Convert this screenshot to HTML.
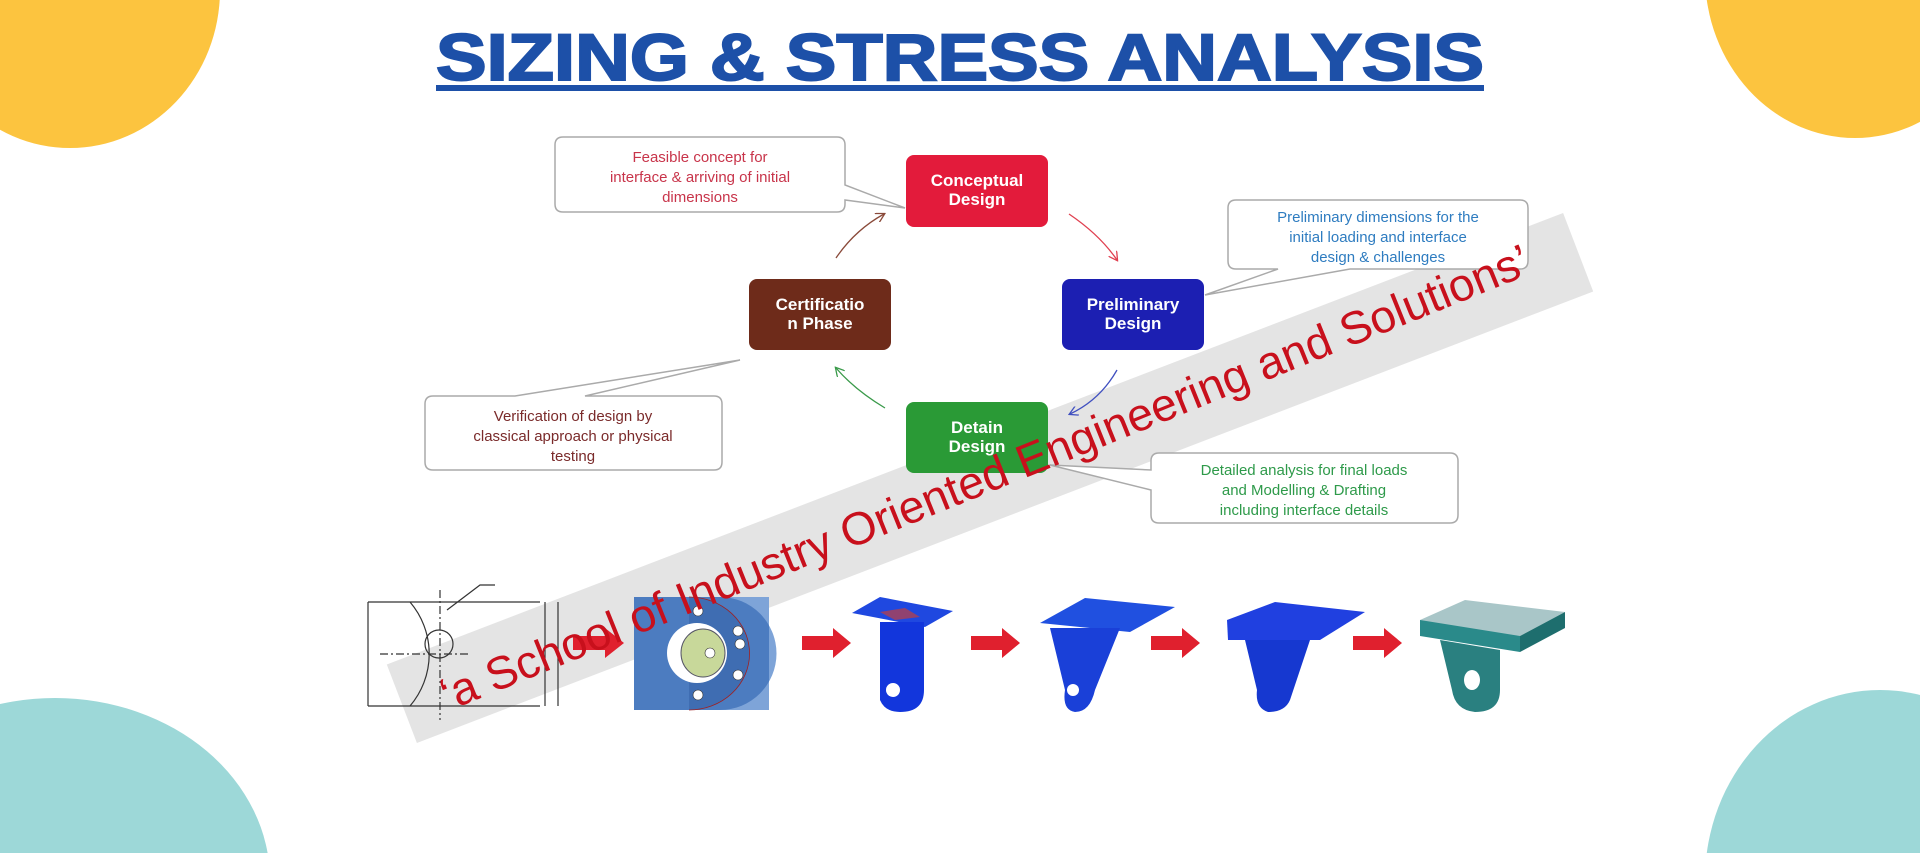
<!DOCTYPE html>
<html><head><meta charset="utf-8"><style>
html,body{margin:0;padding:0;background:#fff;width:1920px;height:853px;overflow:hidden;}
svg{display:block;overflow:hidden}
</style></head><body>
<svg width="1920" height="853" viewBox="0 0 1920 853" xmlns="http://www.w3.org/2000/svg" font-family="Liberation Sans, Arial, sans-serif">
<defs>
<clipPath id="cp"><rect x="0" y="0" width="1920" height="853"/></clipPath>
<marker id="ar" markerWidth="10" markerHeight="10" refX="8" refY="5" orient="auto" markerUnits="userSpaceOnUse"><path d="M0,0 L9,5 L0,10" fill="none" stroke="context-stroke" stroke-width="1.3"/></marker>
</defs>
<g clip-path="url(#cp)">
<ellipse cx="70" cy="-10" rx="150" ry="158" fill="#fcc43f"/>
<ellipse cx="1855" cy="-25" rx="150" ry="163" fill="#fcc43f"/>
<ellipse cx="55" cy="880" rx="215" ry="182" fill="#9dd8d8"/>
<ellipse cx="1880" cy="880" rx="175" ry="190" fill="#9dd8d8"/>
<text x="436" y="80" font-size="66" font-weight="900" fill="#1d50a8" textLength="1048" lengthAdjust="spacingAndGlyphs" stroke="#1d50a8" stroke-width="2">SIZING &amp; STRESS ANALYSIS</text>
<rect x="436" y="85" width="1048" height="6" fill="#1d50a8"/>
<g transform="translate(990,478) rotate(-21)">
<rect x="-630" y="-42" width="1260" height="84" fill="#e4e4e4"/>
</g>
<g fill="#fff" stroke="#aaa" stroke-width="1.5">
<path d="M563,137 H837 Q845,137 845,145 V185 L905,208 L845,200 V204 Q845,212 837,212 H563 Q555,212 555,204 V145 Q555,137 563,137 Z"/>
<path d="M1236,200 H1520 Q1528,200 1528,208 V261 Q1528,269 1520,269 H1350 L1205,295 L1278,269 H1236 Q1228,269 1228,261 V208 Q1228,200 1236,200 Z"/>
<path d="M433,396 H515 L740,360 L585,396 H714 Q722,396 722,404 V462 Q722,470 714,470 H433 Q425,470 425,462 V404 Q425,396 433,396 Z"/>
<path d="M1159,453 H1450 Q1458,453 1458,461 V515 Q1458,523 1450,523 H1159 Q1151,523 1151,515 V490 L1050,465 L1151,470 V461 Q1151,453 1159,453 Z"/>
</g>
<g font-size="15" text-anchor="middle">
<text fill="#c8344a"><tspan x="700" y="162">Feasible concept for</tspan><tspan x="700" y="182">interface &amp; arriving of initial</tspan><tspan x="700" y="202">dimensions</tspan></text>
<text fill="#2e7cc0"><tspan x="1378" y="222">Preliminary dimensions for the</tspan><tspan x="1378" y="242">initial loading and interface</tspan><tspan x="1378" y="262">design &amp; challenges</tspan></text>
<text fill="#7a2a2a"><tspan x="573" y="421">Verification of design by</tspan><tspan x="573" y="441">classical approach or physical</tspan><tspan x="573" y="461">testing</tspan></text>
<text fill="#2e9a4a"><tspan x="1304" y="475">Detailed analysis for final loads</tspan><tspan x="1304" y="495">and Modelling &amp; Drafting</tspan><tspan x="1304" y="515">including interface details</tspan></text>
</g>
<rect x="906" y="155" width="142" height="72" rx="8" fill="#e31b3b"/>
<rect x="1062" y="279" width="142" height="71" rx="8" fill="#1c1fb2"/>
<rect x="906" y="402" width="142" height="71" rx="8" fill="#2a9a36"/>
<rect x="749" y="279" width="142" height="71" rx="8" fill="#6e2b1a"/>
<g font-size="17" font-weight="bold" fill="#fff" text-anchor="middle">
<text><tspan x="977" y="186">Conceptual</tspan><tspan x="977" y="205">Design</tspan></text>
<text><tspan x="1133" y="310">Preliminary</tspan><tspan x="1133" y="329">Design</tspan></text>
<text><tspan x="977" y="433">Detain</tspan><tspan x="977" y="452">Design</tspan></text>
<text><tspan x="820" y="310">Certificatio</tspan><tspan x="820" y="329">n Phase</tspan></text>
</g>
<g fill="none" stroke-width="1.3">
<path d="M1069,214 Q1100,235 1117,260" stroke="#e04050" marker-end="url(#ar)"/>
<path d="M1117,370 Q1100,400 1070,414" stroke="#4050c0" marker-end="url(#ar)"/>
<path d="M885,408 Q855,390 836,368" stroke="#3a9a4a" marker-end="url(#ar)"/>
<path d="M836,258 Q855,230 884,214" stroke="#8a4a3a" marker-end="url(#ar)"/>
</g>
<g stroke="#333" stroke-width="1.2" fill="none">
<path d="M368,602 H540 M368,706 H540 M368,602 V706"/>
<circle cx="439" cy="644" r="14"/>
<path d="M410,602 A80,80 0 0 1 410,706" />
<path d="M440,590 V720 M380,654 H470" stroke-dasharray="8,3,2,3"/>
<path d="M545,602 V706 M558,602 V706"/>
<path d="M447,610 L480,585 H495"/>
</g>
<rect x="634" y="597" width="135" height="113" fill="#4c7cc0"/>
<path d="M720,597 H769 V710 H720 A56,56 0 0 0 720,597 Z" fill="#7ea4d8"/>
<path d="M689,597 A60,56 0 1 1 689,710" fill="#3f6db2" stroke="#a02020" stroke-width="0.8"/>
<ellipse cx="697" cy="653" rx="30" ry="30" fill="#fff"/>
<ellipse cx="703" cy="653" rx="22" ry="24" fill="#c8d89a" stroke="#556" stroke-width="1"/>
<g fill="#fff" stroke="#333" stroke-width="0.6"><circle cx="698" cy="611" r="5"/><circle cx="698" cy="695" r="5"/><circle cx="738" cy="631" r="5"/><circle cx="740" cy="644" r="5"/><circle cx="738" cy="675" r="5"/><circle cx="710" cy="653" r="5"/></g>
<g fill="#e0202e">
<path d="M573,636 H605 V628 L624,643 L605,658 V650 H573 Z"/>
<path d="M802,636 H833 V628 L851,643 L833,658 V650 H802 Z"/>
<path d="M971,636 H1002 V628 L1020,643 L1002,658 V650 H971 Z"/>
<path d="M1151,636 H1182 V628 L1200,643 L1182,658 V650 H1151 Z"/>
<path d="M1353,636 H1384 V628 L1402,643 L1384,658 V650 H1353 Z"/>
</g>
<path d="M852,613 L880,597 L953,611 L925,627 Z" fill="#1f48e0"/>
<path d="M880,622 H924 V690 Q924,712 900,712 Q885,712 880,700 Z" fill="#1236dc"/>
<circle cx="893" cy="690" r="7" fill="#fff"/>
<path d="M880,612 L905,608 L920,617 L895,620 Z" fill="#c04040" opacity="0.7"/>
<path d="M1040,623 L1085,598 L1175,607 L1130,632 Z" fill="#2050e0"/>
<path d="M1050,628 L1120,628 L1095,690 Q1090,712 1075,712 Q1062,710 1065,690 Z" fill="#1a40d8"/>
<circle cx="1073" cy="690" r="6" fill="#fff"/>
<path d="M1227,620 L1275,602 L1365,612 L1320,640 L1228,640 Z" fill="#2040e0"/>
<path d="M1245,640 L1310,640 L1290,700 Q1285,712 1268,712 Q1255,708 1257,690 Z" fill="#1638d0"/>
<path d="M1420,620 L1465,600 L1565,612 L1520,636 L1420,632 Z" fill="#a9c6c8"/>
<path d="M1420,620 L1520,636 V652 L1420,636 Z" fill="#2a8a8a"/>
<path d="M1520,636 L1565,612 V628 L1520,652 Z" fill="#1e6e6e"/>
<path d="M1440,640 L1500,650 V690 Q1500,712 1475,712 Q1455,710 1452,690 Z" fill="#2a8080"/>
<ellipse cx="1472" cy="680" rx="8" ry="10" fill="#fff"/>
<g transform="translate(985,478) rotate(-22)">
<text x="0" y="15" font-size="46" fill="#c8101c" text-anchor="middle" textLength="1170" lengthAdjust="spacingAndGlyphs">‘a School of Industry Oriented Engineering and Solutions’</text>
</g>
</g>
</svg>
</body></html>
